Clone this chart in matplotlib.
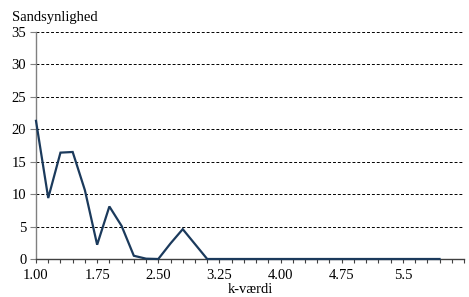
import matplotlib
matplotlib.use("Agg")
import matplotlib.pyplot as plt
import numpy as np

# Data
k_values = [round(1.00 + 0.15 * i, 2) for i in range(34)]
probabilities = [21.3, 9.4, 16.4, 16.5, 10.6, 2.2, 8.1, 5.1, 0.5, 0.05,
                 0.0, 2.4, 4.6, 2.3, 0.0, 0.0, 0.0, 0.0, 0.0, 0.0,
                 0.0, 0.0, 0.0, 0.0, 0.0, 0.0, 0.0, 0.0, 0.0, 0.0,
                 0.0, 0.0, 0.0, 0.0]
n_categories = 36
tick_labels = ["1.00", "1.75", "2.50", "3.25", "4.00", "4.75", "5.5"]
y_ticks = [0, 5, 10, 15, 20, 25, 30, 35]

plt.rcParams['font.family'] = ['Liberation Serif', 'DejaVu Serif']

fig = plt.figure(figsize=(4.69, 2.97), dpi=100)
ax = fig.add_axes([36/469, 1-259/297, (464-36)/469, (259-32)/297])

x = np.arange(len(probabilities))
ax.plot(x, probabilities, color='#1b3a5c', linewidth=1.6, solid_joinstyle='miter', zorder=3, clip_on=False)

ax.set_xlim(0, n_categories - 1)
ax.set_ylim(0, 35)
ax.set_yticks(y_ticks)
ax.set_yticklabels([str(v) for v in y_ticks], fontsize=10.5)
ax.set_xticks(np.arange(n_categories), minor=True)
ax.set_xticks(np.arange(0, 31, 5))
ax.set_xticklabels(tick_labels, fontsize=10.5)
ax.tick_params(axis='x', which='both', direction='out', length=3, width=0.8, color='#404040', pad=4)
ax.tick_params(axis='y', direction='out', length=4, width=0.8, color='#808080', pad=3)

for v in y_ticks[1:]:
    ax.axhline(v, color='black', linewidth=0.7, linestyle=(0, (3, 2)), zorder=1)

for s in ['top', 'right']:
    ax.spines[s].set_visible(False)
ax.spines['left'].set_color('#808080')
ax.spines['left'].set_linewidth(1.0)
ax.spines['bottom'].set_color('#404040')
ax.spines['bottom'].set_linewidth(1.0)

fig.text(12/469, 1-17/297, "Sandsynlighed", fontsize=10.5, ha='left', va='center')
ax.set_xlabel("k-værdi", fontsize=10.5, labelpad=1)

fig.savefig("out.png", dpi=100)
